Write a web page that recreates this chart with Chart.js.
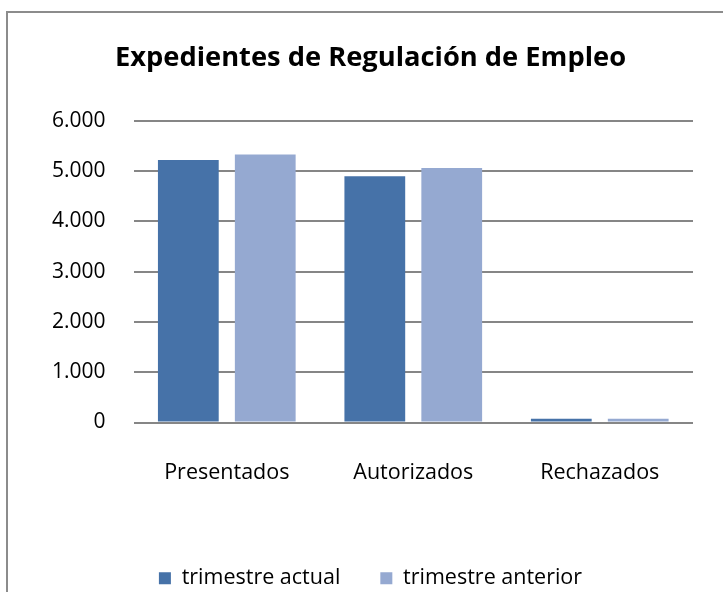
<!DOCTYPE html>
<html>
<head>
<meta charset="utf-8">
<script src="https://cdn.jsdelivr.net/npm/chart.js@4"></script>
<style>
  html, body { margin: 0; padding: 0; background: #fff; overflow: hidden; }
  #frame {
    position: absolute; left: 6px; top: 11px; width: 760px; height: 640px;
    border-left: 2px solid #8c8c8c; border-top: 2px solid #8c8c8c;
  }
  #wrap { position: absolute; left: 0; top: 0; width: 723px; height: 592px; }
</style>
</head>
<body>
<div id="frame"></div>
<div id="wrap"><canvas id="bar-chart"></canvas></div>
<script>
const categories = ["Presentados", "Autorizados", "Rechazados"];
const trimestreActual = [5220, 4895, 75];
const trimestreAnterior = [5330, 5060, 75];
const yTicks = [0, 1000, 2000, 3000, 4000, 5000, 6000];

const fmt = (v) => String(v).replace(/\B(?=(\d{3})+(?!\d))/g, ".");
const FONT = "'Open Sans'";

const config = {
  type: "bar",
  data: {
    labels: categories,
    datasets: [
      {
        label: "trimestre actual",
        data: trimestreActual,
        backgroundColor: "#4672a8",
        barPercentage: 0.79,
        categoryPercentage: 0.825,
      },
      {
        label: "trimestre anterior",
        data: trimestreAnterior,
        backgroundColor: "#95a9d1",
        barPercentage: 0.79,
        categoryPercentage: 0.825,
      },
    ],
  },
  options: {
    responsive: true,
    maintainAspectRatio: false,
    animation: false,
    // wider left padding centres title/legend like the original; y axis is narrowed to compensate
    layout: { padding: { left: 48, right: 30, top: 0, bottom: -7 } },
    plugins: {
      title: {
        display: true,
        text: "Expedientes de Regulación de Empleo",
        color: "#000",
        font: { family: FONT, size: 27.3, weight: "bold" },
        padding: { top: 42, bottom: 46 },
      },
      legend: {
        position: "bottom",
        labels: {
          color: "#000",
          font: { family: FONT, size: 21.5 },
          boxWidth: 12,
          boxHeight: 12,
          padding: 40,
        },
      },
      tooltip: { enabled: false },
    },
    scales: {
      x: {
        grid: { display: false },
        border: { display: false },
        ticks: { color: "#000", font: { family: FONT, size: 21.5 }, padding: 29 },
        afterFit: (axis) => { axis.height = 105; },
      },
      y: {
        min: 0,
        max: 6000,
        afterBuildTicks: (axis) => { axis.ticks = yTicks.map((v) => ({ value: v })); },
        afterFit: (axis) => { axis.width -= 24; },
        grid: { color: "#868686", lineWidth: 2, drawTicks: false },
        border: { display: false },
        ticks: {
          color: "#000",
          font: { family: FONT, size: 21 },
          padding: 28,
          callback: (v) => fmt(v),
        },
      },
    },
  },
};

new Chart(document.getElementById("bar-chart"), config);
</script>
</body>
</html>
